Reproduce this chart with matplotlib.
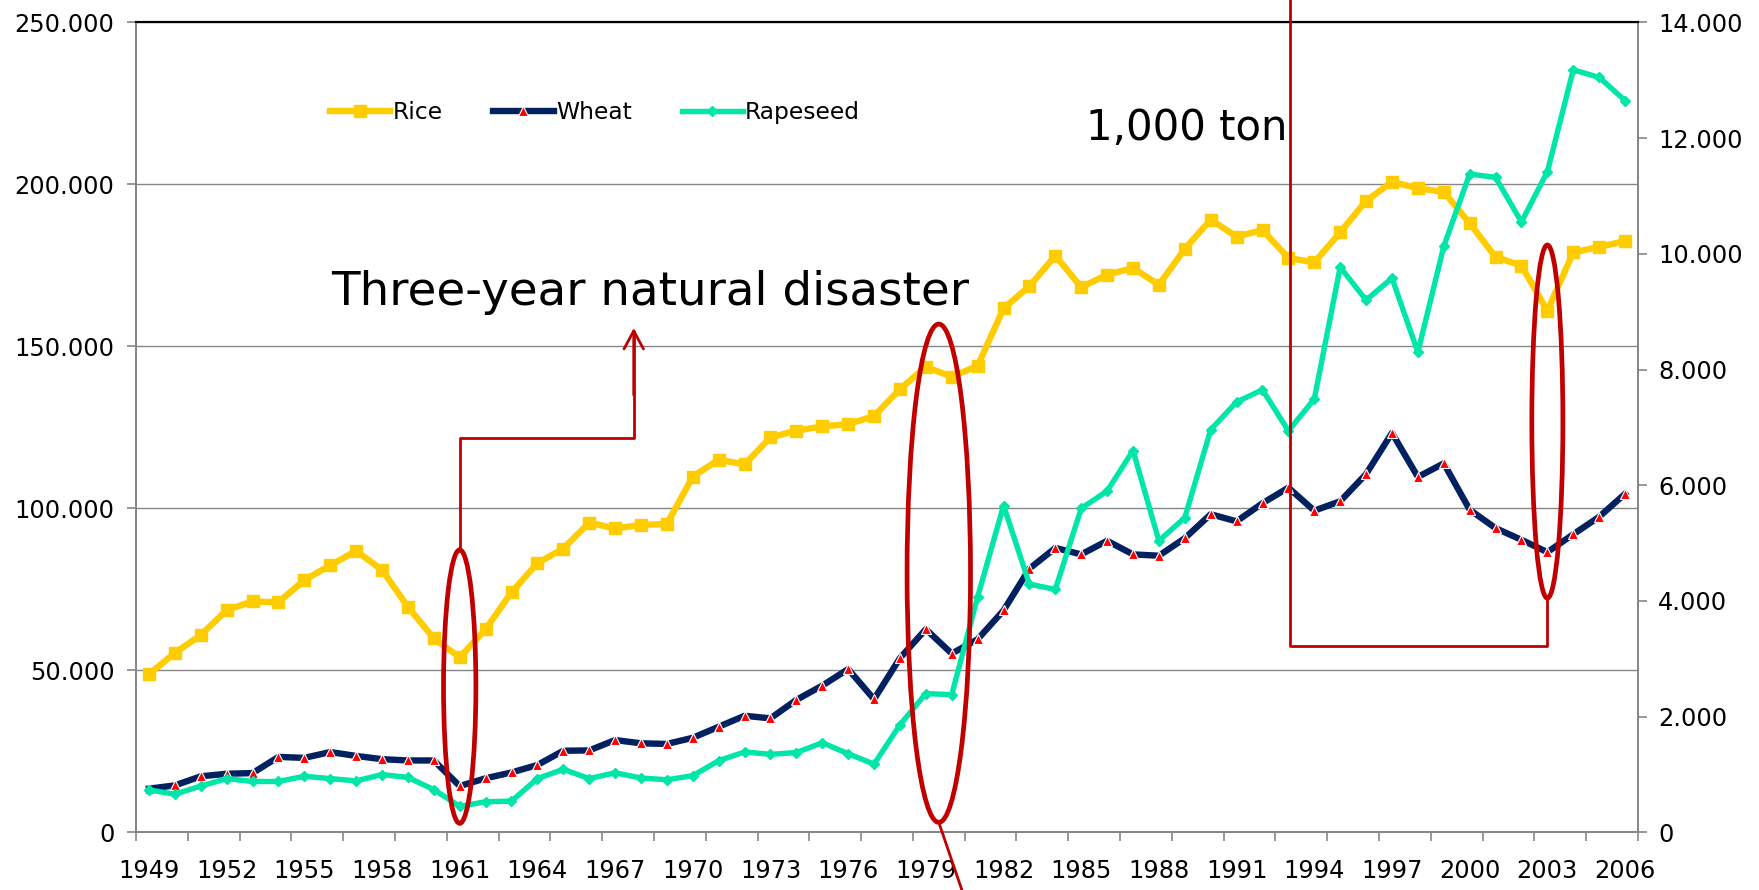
import numpy as np
import matplotlib
matplotlib.use('Agg')
import matplotlib.pyplot as plt
from matplotlib.patches import Ellipse
from matplotlib.lines import Line2D
from matplotlib.ticker import FuncFormatter, FixedLocator

# production, 1,000 ton
years = list(range(1949, 2007))
rice = [48800, 55400, 60900, 68600, 71300, 71000, 77900, 82400, 86900, 81000,
        69600, 59900, 54000, 62700, 74100, 83100, 87600, 95600, 93800, 94900,
        95200, 109800, 115000, 113600, 121900, 124000, 125300, 126000, 128500, 136800,
        143700, 140600, 144000, 161700, 168600, 178000, 168300, 172100, 174200, 169000,
        180100, 189100, 183900, 185900, 177300, 175900, 185200, 194900, 200800, 198800,
        197700, 188000, 177600, 174900, 161000, 179000, 180700, 182500]
wheat = [13500, 14500, 17300, 18100, 18300, 23300, 23000, 24800, 23600, 22600,
         22200, 22200, 14300, 16700, 18500, 20800, 25200, 25300, 28500, 27500,
         27300, 29200, 32600, 36000, 35200, 40900, 45300, 50400, 41100, 53800,
         62700, 55200, 59600, 68500, 81400, 87800, 85800, 90000, 85800, 85400,
         90800, 98200, 96000, 101600, 106400, 99300, 102200, 110600, 123300, 109700,
         113900, 99600, 93900, 90300, 86500, 92000, 97400, 104500]
rapeseed = [734, 660, 800, 930, 880, 880, 970, 930, 890, 1000,
            950, 740, 450, 530, 540, 930, 1090, 930, 1030, 940,
            910, 980, 1240, 1390, 1350, 1380, 1550, 1360, 1180, 1860,
            2400, 2380, 4070, 5650, 4290, 4200, 5600, 5900, 6600, 5040,
            5440, 6960, 7440, 7650, 6940, 7490, 9770, 9200, 9580, 8300,
            10130, 11380, 11320, 10550, 11420, 13180, 13050, 12650]

RICE_C = '#FFCC00'
WHEAT_C = '#002060'
RAPE_C = '#00E6A8'
RED = '#C00000'
GRID = '#868686'

plt.rcParams['font.family'] = ['DejaVu Sans']

W, H = 1759, 890
fig = plt.figure(figsize=(W / 100, H / 100), dpi=100)
ax = fig.add_axes([136 / W, 1 - 832.4 / H, 1502 / W, 810 / H])
ax2 = ax.twinx()

x = np.arange(len(years))

ax.plot(x, rice, color=RICE_C, lw=4.6, marker='s', ms=8.5, mec=RICE_C, label='Rice', zorder=3)
ax.plot(x, wheat, color=WHEAT_C, lw=4.6, marker='^', ms=6.5, mfc='#FF0000', mec='white',
        mew=0.8, label='Wheat', zorder=3)
ax2.plot(x, rapeseed, color=RAPE_C, lw=3.9, marker='D', ms=5, mec=RAPE_C, label='Rapeseed', zorder=3)

ax.set_xlim(-0.5, len(years) - 0.5)
ax.set_ylim(0, 250000)
ax2.set_ylim(0, 14000)

fmt = FuncFormatter(lambda v, p: '{:,.0f}'.format(v).replace(',', '.'))
ax.yaxis.set_major_locator(FixedLocator(np.arange(0, 250001, 50000)))
ax2.yaxis.set_major_locator(FixedLocator(np.arange(0, 14001, 2000)))
ax.yaxis.set_major_formatter(fmt)
ax2.yaxis.set_major_formatter(fmt)

ax.set_xticks(x[::3])
ax.set_xticklabels([str(y) for y in years[::3]])
ax.set_xticks(np.arange(-0.5, len(years), 2), minor=True)

ax.grid(axis='y', color=GRID, lw=1.0)
ax.set_axisbelow(True)

for a in (ax, ax2):
    for s in ('left', 'right', 'bottom'):
        a.spines[s].set_color(GRID)
        a.spines[s].set_linewidth(1.3)
    a.spines['top'].set_color('black')
    a.spines['top'].set_linewidth(1.5)

ax.tick_params(axis='y', direction='out', length=6.5, width=1.2, color=GRID,
               labelsize=17.3, pad=9)
ax2.tick_params(axis='y', direction='out', length=6.5, width=1.2, color=GRID,
                labelsize=17.3, pad=8)
ax.tick_params(axis='x', which='major', length=0, labelsize=17.3, pad=19)
ax.tick_params(axis='x', which='minor', direction='out', length=6.5, width=1.2, color=GRID)

# legend across the top
h1, l1 = ax.get_legend_handles_labels()
h2, l2 = ax2.get_legend_handles_labels()
ax2.legend(h1 + h2, l1 + l2, loc='center left', bbox_to_anchor=(0.129, 0.889), ncol=3,
           frameon=False, fontsize=16.8, handlelength=2.6, handletextpad=0.1,
           columnspacing=2.15, borderpad=0, borderaxespad=0, numpoints=1)

# red annotations, in left-axis data units
tr = ax.transData
ell_kw = dict(fill=False, ec=RED, lw=3.4, transform=tr, zorder=6)
ax2.add_patch(Ellipse((12, 45000), 1.25, 84400, **ell_kw))
ax2.add_patch(Ellipse((30.5, 80000), 2.45, 153800, **ell_kw))
ax2.add_patch(Ellipse((54, 126800), 1.2, 109000, **ell_kw))

ln_kw = dict(color=RED, lw=2.0, transform=tr, zorder=6, clip_on=False)
ax2.add_line(Line2D([12, 12, 18.72, 18.72], [87200, 121800, 121800, 154500], **ln_kw))
ax2.annotate('', xy=(18.72, 155700), xytext=(18.72, 135000), xycoords=tr, textcoords=tr,
             arrowprops=dict(arrowstyle='->,head_length=1.3,head_width=0.7', color=RED,
                             lw=2.0, shrinkA=0, shrinkB=0), zorder=6)
ax2.add_line(Line2D([44.05, 44.05, 54, 54], [262000, 57500, 57500, 72300], **ln_kw))
ax2.add_line(Line2D([30.5, 31.7], [3100, -25000], **ln_kw))

ax2.text(7.05, 166500, 'Three-year natural disaster', fontsize=33.7, ha='left', va='center',
         transform=tr, zorder=7)
ax2.text(36.2, 217500, '1,000 ton', fontsize=30.2, ha='left', va='center',
         transform=tr, zorder=7)

fig.savefig('out.png', dpi=100)
